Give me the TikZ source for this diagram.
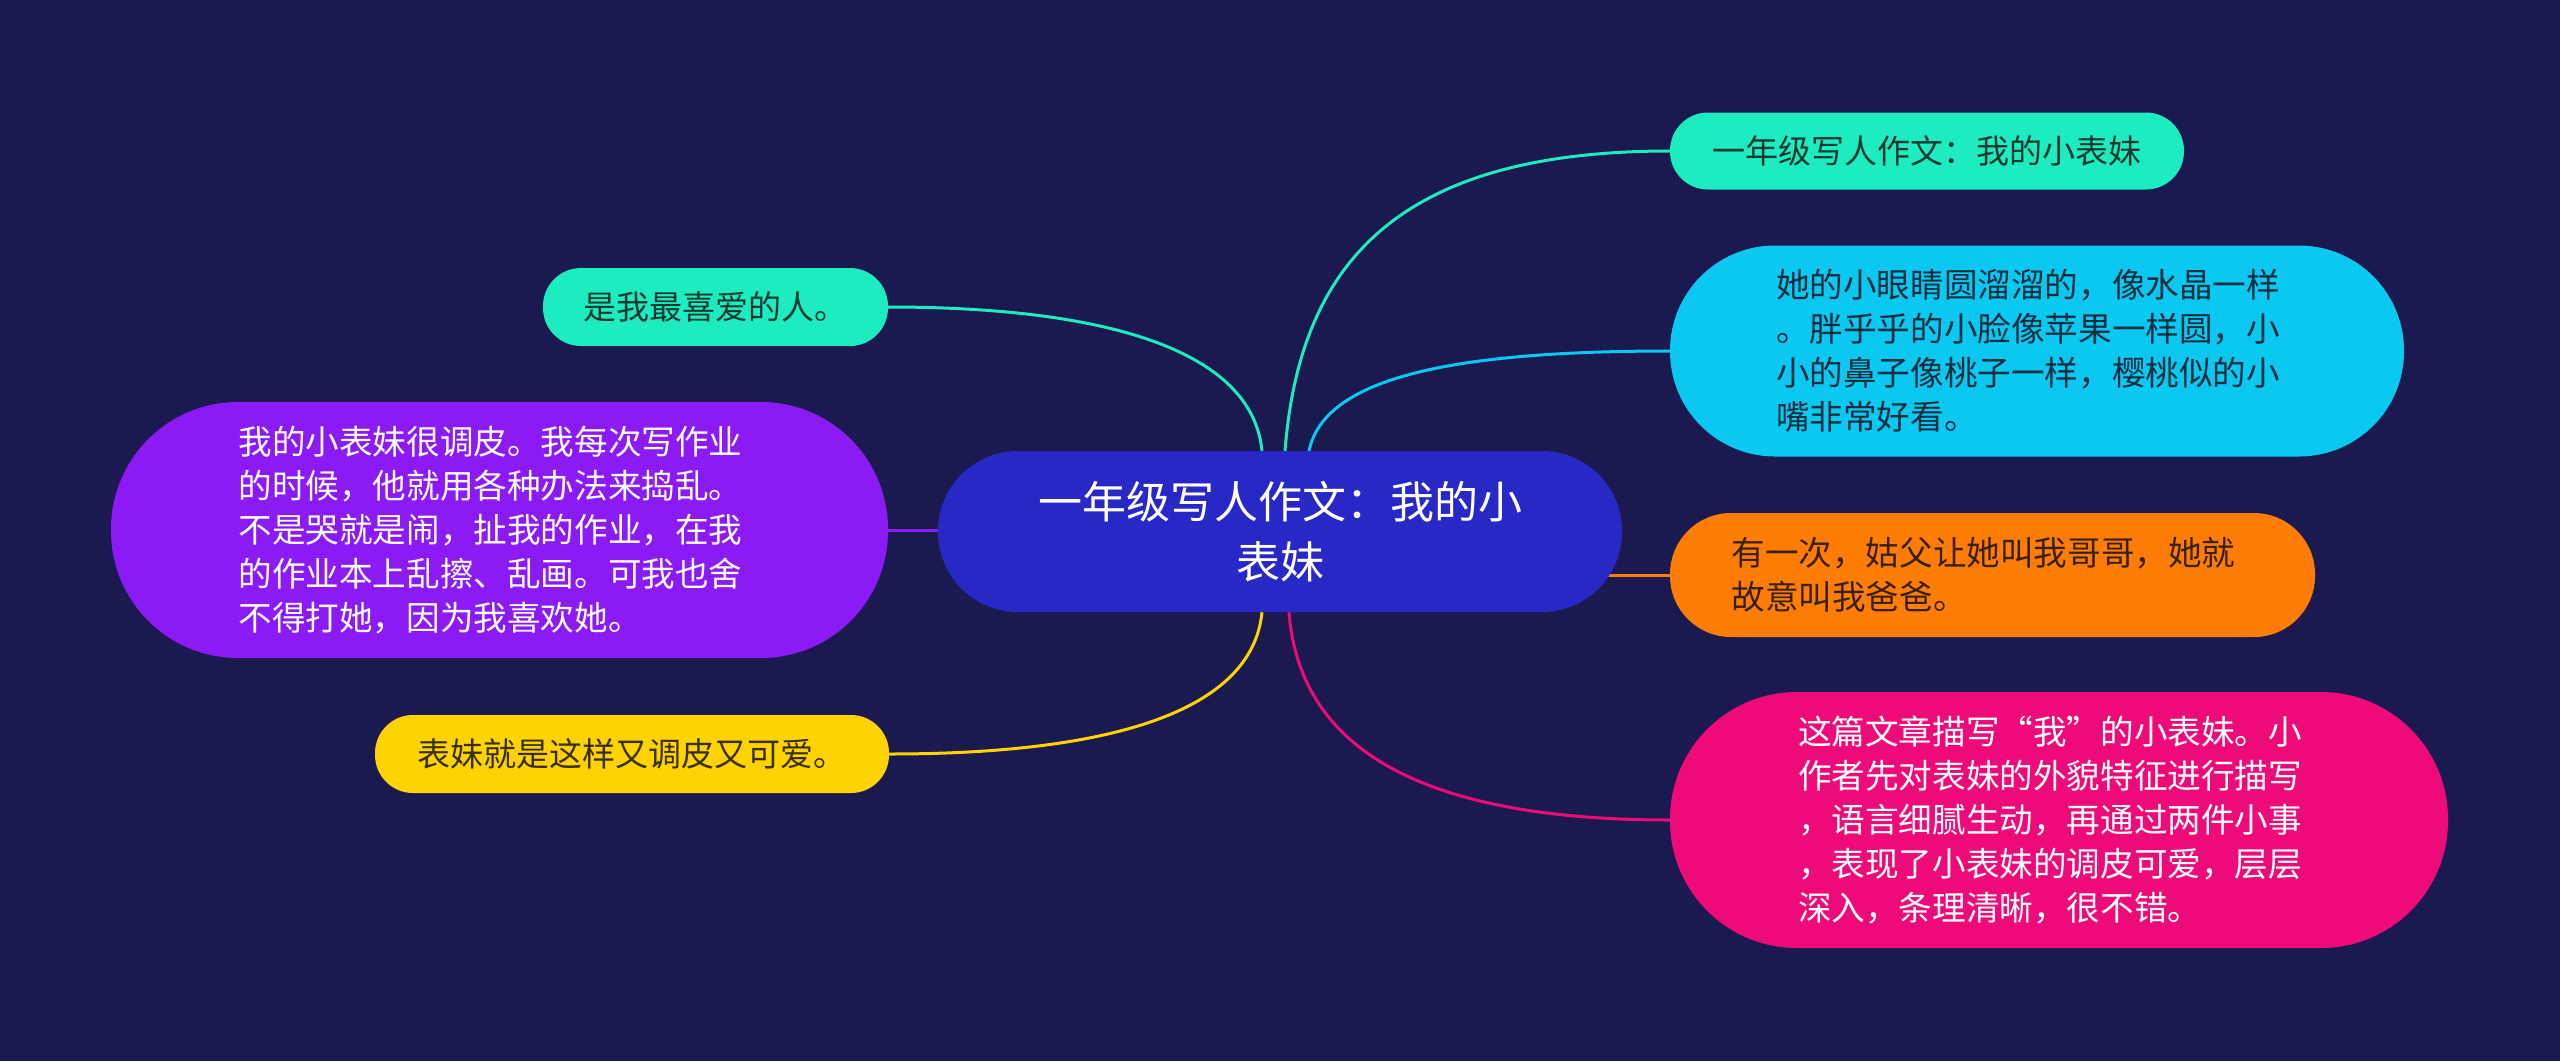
\documentclass[tikz,border=0pt]{standalone}
\usepackage{fontspec}
\setmainfont{Noto Sans CJK SC}
\usetikzlibrary{calc}
\definecolor{bgc}{HTML}{1B1A50}
\definecolor{cfill}{HTML}{2828C6}
\definecolor{tealc}{HTML}{1CECBF}
\definecolor{cyanc}{HTML}{0BC8F0}
\definecolor{orangec}{HTML}{FF7D05}
\definecolor{pinkc}{HTML}{EE0A78}
\definecolor{purplec}{HTML}{8B1AF5}
\definecolor{yellowc}{HTML}{FFD300}
\definecolor{tealtxt}{HTML}{143A30}
\definecolor{cyantxt}{HTML}{0F2E40}
\definecolor{orangetxt}{HTML}{3A2008}
\definecolor{yellowtxt}{HTML}{3A3008}
\newcommand\mypadr{\hspace*{18pt}}
\pgfdeclarelayer{bgl}
\pgfdeclarelayer{edges}
\pgfsetlayers{bgl,edges,main}
\begin{document}
\begin{tikzpicture}[x=1pt,y=-1pt,
  pill/.style n args={4}{rectangle, inner sep=0pt, minimum width=#1, minimum height=#2, rounded corners=#3, fill=#4},
  body/.style={font=\fontsize{33}{44}\selectfont, align=left},
  longbody/.style={font=\fontsize{33.6}{44}\selectfont, align=left},
  conn/.style={line width=3pt}]
\begin{pgfonlayer}{bgl}
\fill[bgc] (0,0) rectangle (2560,1061);
\end{pgfonlayer}
\useasboundingbox (0,0) rectangle (2560,1061);

% central node
\node[pill={684pt}{161pt}{80pt}{cfill}, text=white, font=\fontsize{44}{60}\selectfont, align=center] (c) at (1280,531.5) {一年级写人作文：我的小\\表妹};

% right nodes
\node[pill={514pt}{77pt}{38pt}{tealc}, body, text=tealtxt] (n1) at (1927,151) {一年级写人作文：我的小表妹};
\node[pill={734pt}{211pt}{105pt}{cyanc}, longbody, text=cyantxt] (n2) at (2037,351) {她的小眼睛圆溜溜的，像水晶一样\mypadr\\。胖乎乎的小脸像苹果一样圆，小\\小的鼻子像桃子一样，樱桃似的小\\嘴非常好看。};
\node[pill={645pt}{124pt}{61pt}{orangec}, longbody, text=orangetxt] (n3) at (1992.5,575) {有一次，姑父让她叫我哥哥，她就\mypadr\\故意叫我爸爸。};
\node[pill={778pt}{256pt}{127pt}{pinkc}, longbody, text=white] (n4) at (2059,820) {这篇文章描写“我”的小表妹。小\mypadr\\作者先对表妹的外貌特征进行描写\\，语言细腻生动，再通过两件小事\\，表现了小表妹的调皮可爱，层层\\深入，条理清晰，很不错。};

% left nodes
\node[pill={345pt}{78pt}{38pt}{tealc}, body, text=tealtxt] (n5) at (715.5,307) {是我最喜爱的人。};
\node[pill={777pt}{256pt}{127pt}{purplec}, longbody, text=white] (n6) at (499.5,530) {我的小表妹很调皮。我每次写作业\mypadr\\的时候，他就用各种办法来捣乱。\\不是哭就是闹，扯我的作业，在我\\的作业本上乱擦、乱画。可我也舍\\不得打她，因为我喜欢她。};
\node[pill={514pt}{78pt}{38pt}{yellowc}, body, text=yellowtxt] (n7) at (632,754) {表妹就是这样又调皮又可爱。};

% connectors
\begin{pgfonlayer}{edges}
\coordinate (s1) at ($(c.north)+(5,0)$);
\coordinate (s2) at ($(c.north)+(29,0)$);
\coordinate (s4) at ($(c.south)+(9,0)$);
\coordinate (s5) at ($(c.north)+(-18,0)$);
\coordinate (s7) at ($(c.south)+(-18,0)$);
\draw[conn, tealc] (s1) .. controls +(15,-190) and +(-270,0) .. (n1.west);
\draw[conn, cyanc] (s2) .. controls +(15,-70) and +(-230,0) .. (n2.west);
\draw[conn, orangec] (c.center |- n3.west) -- (n3.west);
\draw[conn, pinkc] (s4) .. controls +(10,130) and +(-260,0) .. (n4.west);
\draw[conn, tealc] (s5) .. controls +(-10,-100) and +(220,0) .. (n5.east);
\draw[conn, purplec] (c.center |- n6.east) -- (n6.east);
\draw[conn, yellowc] (s7) .. controls +(-10,100) and +(220,0) .. (n7.east);
\end{pgfonlayer}
\end{tikzpicture}
\end{document}
